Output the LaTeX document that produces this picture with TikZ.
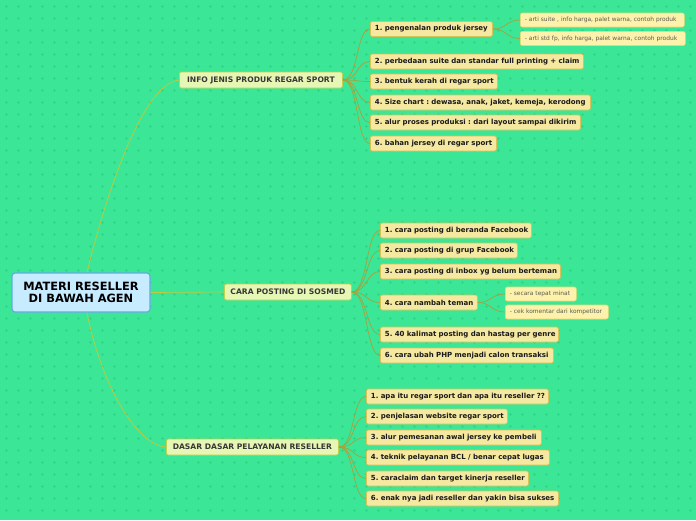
\documentclass[tikz,border=0pt]{standalone}
\usepackage{fontspec}
\setmainfont{DejaVu Sans}
\frenchspacing
\definecolor{bg}{RGB}{59,230,150}
\definecolor{plusc}{RGB}{48,214,136}
\definecolor{rootfill}{RGB}{200,236,255}
\definecolor{rootdraw}{RGB}{100,170,230}
\definecolor{lafill}{RGB}{230,246,180}
\definecolor{ladraw}{RGB}{190,210,80}
\definecolor{latext}{RGB}{55,55,55}
\definecolor{lbfill}{RGB}{245,232,160}
\definecolor{lbdraw}{RGB}{215,195,90}
\definecolor{lbtext}{RGB}{25,25,25}
\definecolor{scfill}{RGB}{252,242,172}
\definecolor{scdraw}{RGB}{235,215,110}
\definecolor{sctext}{RGB}{90,90,80}
\definecolor{rootline}{RGB}{195,200,60}
\definecolor{branchline}{RGB}{170,160,60}
\begin{document}
\begin{tikzpicture}[x=1pt,y=-1pt,
  rootbox/.style={draw=rootdraw,line width=1.2pt,fill=rootfill,rounded corners=3pt,
    minimum width=138pt,minimum height=39pt,inner sep=0pt,align=center,
    font=\fontsize{11.4}{12.5}\selectfont\bfseries,text=black},
  lonebox/.style={draw=ladraw,line width=0.8pt,fill=lafill,rounded corners=2pt,
    minimum height=16pt,inner sep=0pt,anchor=west,
    font=\fontsize{7.6}{8}\selectfont\bfseries,text=latext},
  ltwobox/.style={draw=lbdraw,line width=0.8pt,fill=lbfill,rounded corners=2pt,
    minimum height=15pt,inner xsep=4.5pt,inner ysep=0pt,anchor=west,align=left,
    font=\fontsize{7.0}{8}\selectfont\bfseries,text=lbtext},
  subbox/.style={draw=scdraw,line width=0.6pt,fill=scfill,rounded corners=2pt,
    minimum height=14pt,inner xsep=4.5pt,inner ysep=0pt,anchor=west,align=left,
    font=\fontsize{5.9}{6.5}\selectfont,text=sctext},
  rline/.style={draw=rootline,line width=0.7pt},
  bline/.style={draw=branchline,line width=0.7pt},
]
\useasboundingbox (0,0) rectangle (696,520);
\fill[bg] (0,0) rectangle (696,520);
\foreach \x in {6,18,...,696}{
  \foreach \y in {6,18,...,520}{
    \draw[plusc,line width=0.5pt] (\x-1.5,\y) -- (\x+1.5,\y) (\x,\y-1.5) -- (\x,\y+1.5);
  }
}

% root
\node[rootbox] (root) at (81,292.5) {MATERI RESELLER\\ DI BAWAH AGEN};

% level one
\node[lonebox,minimum width=163pt] (info) at (179,80) {INFO JENIS PRODUK REGAR SPORT};
\node[lonebox,minimum width=127pt] (cara) at (224,292) {CARA POSTING DI SOSMED};
\node[lonebox,minimum width=172pt] (dasar) at (166,447) {DASAR DASAR PELAYANAN RESELLER};

% group 1
\node[ltwobox,text width=113pt] (a1) at (370,29) {\mbox{1. pengenalan produk jersey}};
\node[ltwobox,text width=204pt] (a2) at (370,61.5) {\mbox{2. perbedaan suite dan standar full printing + claim}};
\node[ltwobox,text width=118pt] (a3) at (370,81.5) {\mbox{3. bentuk kerah di regar sport}};
\node[ltwobox,text width=211pt] (a4) at (370,102.5) {\mbox{4. Size chart : dewasa, anak, jaket, kemeja, kerodong}};
\node[ltwobox,text width=201pt] (a5) at (370,122.5) {\mbox{5. alur proses produksi : dari layout sampai dikirim}};
\node[ltwobox,text width=117pt] (a6) at (370,143.5) {\mbox{6. bahan jersey di regar sport}};
\node[subbox,text width=155pt] (s1) at (520,20) {\mbox{- arti suite , info harga, palet warna, contoh produk}};
\node[subbox,text width=156pt] (s2) at (520,38.5) {\mbox{- arti std fp, info harga, palet warna, contoh produk}};

% group 2
\node[ltwobox,text width=142pt] (b1) at (380,230.5) {\mbox{1. cara posting di beranda Facebook}};
\node[ltwobox,text width=128pt] (b2) at (380,250.5) {\mbox{2. cara posting di grup Facebook}};
\node[ltwobox,text width=171pt] (b3) at (380,271.5) {\mbox{3. cara posting di inbox yg belum berteman}};
\node[ltwobox,text width=88pt] (b4) at (380,302.5) {\mbox{4. cara nambah teman}};
\node[ltwobox,text width=169pt] (b5) at (380,334.5) {\mbox{5. 40 kalimat posting dan hastag per genre}};
\node[ltwobox,text width=164pt] (b6) at (380,355.5) {\mbox{6. cara ubah PHP menjadi calon transaksi}};
\node[subbox,text width=62pt] (t1) at (505,294) {\mbox{- secara tepat minat}};
\node[subbox,text width=94pt] (t2) at (505,312) {\mbox{- cek komentar dari kompetitor}};

% group 3
\node[ltwobox,text width=173pt] (c1) at (366,396.5) {\mbox{1. apa itu regar sport dan apa itu reseller ??}};
\node[ltwobox,text width=132pt] (c2) at (366,416.5) {\mbox{2. penjelasan website regar sport}};
\node[ltwobox,text width=166pt] (c3) at (366,437.5) {\mbox{3. alur pemesanan awal jersey ke pembeli}};
\node[ltwobox,text width=174pt] (c4) at (366,457.5) {\mbox{4. teknik pelayanan BCL / benar cepat lugas}};
\node[ltwobox,text width=153pt] (c5) at (366,478.5) {\mbox{5. caraclaim dan target kinerja reseller}};
\node[ltwobox,text width=183pt] (c6) at (366,498.5) {\mbox{6. enak nya jadi reseller dan yakin bisa sukses}};

% connectors root
\draw[rline] ([xshift=6pt]root.north) .. controls (102,210) and (140,84) .. (info.west);
\draw[rline] (root.east) -- (cara.west);
\draw[rline] ([xshift=6pt]root.south) .. controls (100,380) and (135,445) .. (dasar.west);

% connectors branches
\foreach \n in {a1,a2,a3,a4,a5,a6}{
  \draw[bline] (info.east) .. controls +(16,0) and +(-14,0) .. (\n.west);
}
\foreach \n in {s1,s2}{
  \draw[bline] (a1.east) .. controls +(14,0) and +(-14,0) .. (\n.west);
}
\foreach \n in {b1,b2,b3,b4,b5,b6}{
  \draw[bline] (cara.east) .. controls +(16,0) and +(-14,0) .. (\n.west);
}
\foreach \n in {t1,t2}{
  \draw[bline] (b4.east) .. controls +(14,0) and +(-14,0) .. (\n.west);
}
\foreach \n in {c1,c2,c3,c4,c5,c6}{
  \draw[bline] (dasar.east) .. controls +(16,0) and +(-14,0) .. (\n.west);
}
\end{tikzpicture}
\end{document}
